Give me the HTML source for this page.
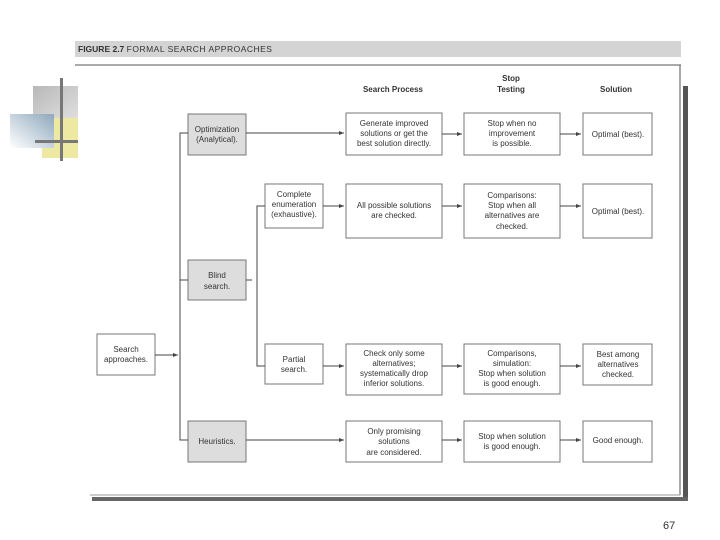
<!DOCTYPE html>
<html><head><style>
html,body{margin:0;padding:0;background:#fff;}
svg{display:block;}
text{font-family:"Liberation Sans",sans-serif;fill:#333;}
</style></head><body>
<svg width="720" height="540" viewBox="0 0 720 540" xmlns="http://www.w3.org/2000/svg">
<defs>
<linearGradient id="bl" x1="1" y1="0" x2="0" y2="1">
<stop offset="0" stop-color="#8ea8bd"/><stop offset="1" stop-color="#fff"/>
</linearGradient>
<linearGradient id="gr" x1="0" y1="0" x2="1" y2="1">
<stop offset="0" stop-color="#b8b8b8"/><stop offset="1" stop-color="#e0e0e0"/>
</linearGradient>
<marker id="a" markerWidth="6" markerHeight="6" refX="5" refY="3" orient="auto"><path d="M0,1 L5,3 L0,5 z" fill="#444"/></marker>
</defs>
<!-- decoration -->
<rect x="33" y="86" width="45" height="34" fill="url(#gr)"/>
<rect x="42" y="118" width="36" height="40" fill="#ede9a2"/>
<rect x="10" y="114" width="44" height="34" fill="url(#bl)"/>
<rect x="60" y="78" width="3" height="83" fill="#777"/>
<rect x="35" y="140" width="43" height="3" fill="#777"/>
<!-- title -->
<rect x="75" y="41" width="606" height="16" fill="#d4d4d4"/>
<text x="78" y="52" font-size="8.5" font-weight="bold" fill="#444">FIGURE 2.7 <tspan font-weight="normal" letter-spacing="0.5">FORMAL SEARCH APPROACHES</tspan></text>
<line x1="75" y1="65" x2="681" y2="65" stroke="#555" stroke-width="1"/>
<line x1="680" y1="65" x2="680" y2="495" stroke="#555" stroke-width="1"/>
<line x1="90" y1="495" x2="680" y2="495" stroke="#999" stroke-width="1"/>
<rect x="683" y="86" width="5" height="415" fill="#555"/>
<rect x="92" y="497" width="596" height="4" fill="#666"/>
<!-- headers -->
<g font-size="8" font-weight="bold" text-anchor="middle" fill="#333">
<text x="393" y="92">Search Process</text>
<text x="511" y="81">Stop</text><text x="511" y="92">Testing</text>
<text x="616" y="92">Solution</text>
</g>
<!-- boxes -->
<g stroke="#777" stroke-width="1">
<rect x="97" y="334" width="58" height="41" fill="#fff"/>
<rect x="188" y="114" width="58" height="41" fill="#ddd"/>
<rect x="188" y="260" width="58" height="40" fill="#ddd"/>
<rect x="188" y="421" width="58" height="41" fill="#ddd"/>
<rect x="265" y="184" width="58" height="44" fill="#fff"/>
<rect x="265" y="344" width="58" height="40" fill="#fff"/>
<rect x="346" y="113" width="96" height="42" fill="#fff"/>
<rect x="346" y="184" width="96" height="54" fill="#fff"/>
<rect x="346" y="344" width="96" height="51" fill="#fff"/>
<rect x="346" y="421" width="96" height="41" fill="#fff"/>
<rect x="464" y="113" width="96" height="42" fill="#fff"/>
<rect x="464" y="184" width="96" height="54" fill="#fff"/>
<rect x="464" y="344" width="96" height="50" fill="#fff"/>
<rect x="464" y="421" width="96" height="41" fill="#fff"/>
<rect x="583" y="113" width="69" height="42" fill="#fff"/>
<rect x="583" y="184" width="69" height="54" fill="#fff"/>
<rect x="583" y="344" width="69" height="41" fill="#fff"/>
<rect x="583" y="421" width="69" height="41" fill="#fff"/>
</g>
<!-- connectors -->
<g stroke="#444" stroke-width="1" fill="none">
<line x1="155" y1="355" x2="178" y2="355" marker-end="url(#a)"/>
<polyline points="188,133 180,133 180,440 188,440"/>
<line x1="180" y1="280" x2="188" y2="280"/>
<line x1="246" y1="280" x2="252" y2="280"/>
<polyline points="265,206 257,206 257,366 265,366"/>
<line x1="246" y1="133" x2="344" y2="133" marker-end="url(#a)"/>
<line x1="323" y1="206" x2="344" y2="206" marker-end="url(#a)"/>
<line x1="323" y1="366" x2="344" y2="366" marker-end="url(#a)"/>
<line x1="246" y1="440" x2="344" y2="440" marker-end="url(#a)"/>
<line x1="442" y1="134" x2="462" y2="134" marker-end="url(#a)"/>
<line x1="442" y1="206" x2="462" y2="206" marker-end="url(#a)"/>
<line x1="442" y1="366" x2="462" y2="366" marker-end="url(#a)"/>
<line x1="442" y1="440" x2="462" y2="440" marker-end="url(#a)"/>
<line x1="560" y1="134" x2="581" y2="134" marker-end="url(#a)"/>
<line x1="560" y1="206" x2="581" y2="206" marker-end="url(#a)"/>
<line x1="560" y1="366" x2="581" y2="366" marker-end="url(#a)"/>
<line x1="560" y1="440" x2="581" y2="440" marker-end="url(#a)"/>
</g>
<!-- labels -->
<g font-size="8" text-anchor="middle" fill="#444">
<text x="126" y="352">Search</text><text x="126" y="362">approaches.</text>
<text x="217" y="132">Optimization</text><text x="217" y="142">(Analytical).</text>
<text x="217" y="278">Blind</text><text x="217" y="289">search.</text>
<text x="217" y="444">Heuristics.</text>
<text x="294" y="197">Complete</text><text x="294" y="207">enumeration</text><text x="294" y="217">(exhaustive).</text>
<text x="294" y="362">Partial</text><text x="294" y="372">search.</text>
<text x="394" y="126">Generate improved</text><text x="394" y="136">solutions or get the</text><text x="394" y="146">best solution directly.</text>
<text x="394" y="208">All possible solutions</text><text x="394" y="218">are checked.</text>
<text x="394" y="356">Check only some</text><text x="394" y="366">alternatives;</text><text x="394" y="376">systematically drop</text><text x="394" y="386">inferior solutions.</text>
<text x="394" y="434">Only promising</text><text x="394" y="444">solutions</text><text x="394" y="455">are considered.</text>
<text x="512" y="126">Stop when no</text><text x="512" y="136">improvement</text><text x="512" y="146">is possible.</text>
<text x="512" y="198">Comparisons:</text><text x="512" y="208">Stop when all</text><text x="512" y="218">alternatives are</text><text x="512" y="229">checked.</text>
<text x="512" y="356">Comparisons,</text><text x="512" y="366">simulation:</text><text x="512" y="376">Stop when solution</text><text x="512" y="386">is good enough.</text>
<text x="512" y="439">Stop when solution</text><text x="512" y="449">is good enough.</text>
<text x="618" y="137">Optimal (best).</text>
<text x="618" y="214">Optimal (best).</text>
<text x="618" y="357">Best among</text><text x="618" y="367">alternatives</text><text x="618" y="377">checked.</text>
<text x="618" y="443">Good enough.</text>
</g>
<text x="663" y="529" font-size="11" fill="#222">67</text>
</svg>
</body></html>
